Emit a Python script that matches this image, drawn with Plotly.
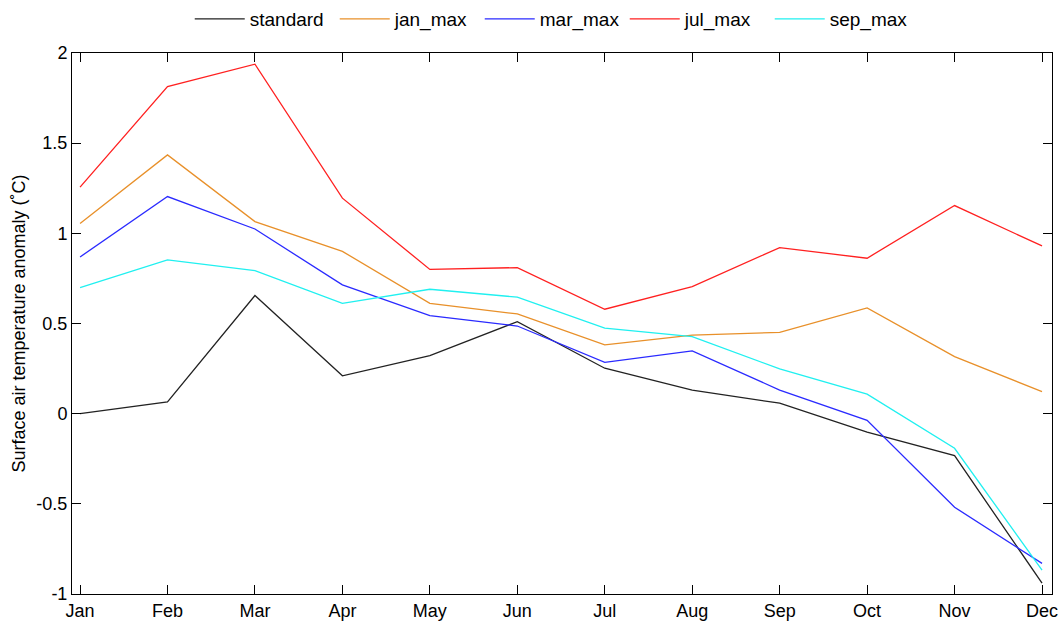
import plotly.graph_objects as go

months = ["Jan", "Feb", "Mar", "Apr", "May", "Jun", "Jul", "Aug", "Sep", "Oct", "Nov", "Dec"]
month_idx = list(range(1, 13))

standard = [0.0, 0.065, 0.655, 0.21, 0.322, 0.51, 0.252, 0.131, 0.058, -0.103, -0.233, -0.94]
jan_max = [1.055, 1.435, 1.065, 0.90, 0.612, 0.553, 0.381, 0.435, 0.451, 0.586, 0.316, 0.122]
mar_max = [0.869, 1.204, 1.024, 0.714, 0.544, 0.486, 0.285, 0.348, 0.131, -0.037, -0.519, -0.83]
jul_max = [1.256, 1.814, 1.938, 1.195, 0.80, 0.81, 0.579, 0.704, 0.921, 0.862, 1.154, 0.93]
sep_max = [0.699, 0.853, 0.793, 0.612, 0.69, 0.646, 0.474, 0.427, 0.248, 0.108, -0.192, -0.867]

series = [
    ("standard", standard, "#222222"),
    ("jan_max", jan_max, "#E8902A"),
    ("mar_max", mar_max, "#2A2AFF"),
    ("jul_max", jul_max, "#FF2020"),
    ("sep_max", sep_max, "#20F0F0"),
]

y_ticks = [-1, -0.5, 0, 0.5, 1, 1.5, 2]
y_tick_text = ["-1", "-0.5", "0", "0.5", "1", "1.5", "2"]

fig = go.Figure()
for name, vals, color in series:
    fig.add_trace(go.Scatter(x=month_idx, y=vals, name=name, mode="lines",
                             line=dict(color=color, width=1.3)))

fam = "Liberation Sans, Arial, sans-serif"
tick_font = dict(family=fam, size=18, color="black")
legend_font = dict(family=fam, size=19, color="black")
title_font = dict(family=fam, size=18, color="black")

fig.update_layout(
    width=1060, height=627,
    margin=dict(l=72, r=8, t=53, b=33, autoexpand=False),
    paper_bgcolor="white", plot_bgcolor="white",
    font=tick_font,
    showlegend=True,
    legend=dict(orientation="h", x=0.179, xanchor="left", xref="container",
                y=1.0, yanchor="top", yref="container", font=legend_font,
                entrywidth=80, entrywidthmode="pixels", itemwidth=50,
                bgcolor="rgba(0,0,0,0)"),
    xaxis=dict(range=[0.908, 12.114], tickvals=month_idx, ticktext=months,
               automargin=False,
               showgrid=False, zeroline=False, showline=True, linecolor="black",
               linewidth=1, mirror="ticks", ticks="inside", ticklen=9,
               tickcolor="black", tickfont=tick_font),
    yaxis=dict(range=[-1, 2], tickvals=y_ticks, ticktext=y_tick_text,
               automargin=False,
               showgrid=False, zeroline=False, showline=True, linecolor="black",
               linewidth=1, mirror="ticks", ticks="inside", ticklen=9,
               tickcolor="black", tickfont=tick_font,
               title=dict(text="Surface air temperature anomaly (˚C)", font=title_font, standoff=6)),
)

fig.write_html("out.html", config={"displayModeBar": False},
               post_script="document.body.style.margin='0';document.body.style.overflow='hidden';")
